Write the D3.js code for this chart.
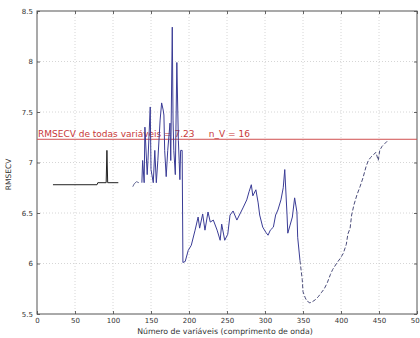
<!DOCTYPE html>
<html>
<head>
<meta charset="utf-8">
<script src="https://cdn.jsdelivr.net/npm/d3@7"></script>
<style>
  html, body { margin: 0; padding: 0; background: #fff; }
  svg { display: block; }
  text { font-family: "DejaVu Sans", Arial, sans-serif; }
</style>
</head>
<body>
<svg id="chart" width="420" height="338"></svg>
<script>
// RMSECV com todas as variáveis (primeiros comprimentos de onda)
const baseX = [21, 79, 80, 91, 92, 93, 107];
const baseY = [6.78, 6.78, 6.80, 6.80, 7.12, 6.80, 6.80];

// trecho curto isolado
const shortX = [126, 128, 131, 134];
const shortY = [6.76, 6.79, 6.81, 6.80];

// RMSECV por número de variáveis selecionadas
const curveX = [138, 139, 141, 142, 145, 146, 149, 150, 153, 155, 157, 159, 162, 164, 166, 167, 168, 170,
  172, 175, 176, 178, 179, 180, 182, 184, 186, 188, 189, 191, 192, 195, 199,
  203, 208, 212, 214, 218, 221, 225, 228, 232, 237, 241, 243, 247, 251, 254, 258, 263, 267, 271, 276,
  279, 282, 284, 288, 291, 293, 297, 301, 304, 307, 311, 314, 317, 321, 324, 326, 329, 330, 333, 336,
  339, 342, 343, 346];
const curveY = [6.80, 7.02, 6.80, 7.35, 6.88, 7.02, 7.55, 6.93, 6.80, 7.12, 6.80, 7.02, 7.42, 7.59, 7.52, 7.47, 7.12, 6.86,
  7.12, 7.39, 7.02, 8.34, 7.42, 7.12, 6.88, 7.99, 7.22, 6.83, 7.12, 7.12, 6.01, 6.02, 6.13,
  6.18, 6.33, 6.46, 6.35, 6.49, 6.33, 6.51, 6.41, 6.43, 6.33, 6.23, 6.39, 6.23, 6.29, 6.48, 6.52, 6.43, 6.49, 6.55, 6.63,
  6.71, 6.78, 6.67, 6.73, 6.60, 6.48, 6.36, 6.31, 6.28, 6.33, 6.36, 6.48, 6.53, 6.63, 6.75, 6.93, 6.48, 6.30, 6.38, 6.46,
  6.65, 6.51, 6.26, 6.03];

// trecho final (mínimo e subida)
const tailX = [346, 349, 350, 353, 355, 359, 362, 366, 370, 374, 378, 382, 386, 389, 395, 399, 403, 407, 409,
  412, 414, 417, 421, 425, 429, 433, 436, 439, 443, 446, 449, 451, 454, 458, 462];
const tailY = [6.03, 5.84, 5.72, 5.66, 5.63, 5.61, 5.62, 5.64, 5.67, 5.71, 5.75, 5.81, 5.89, 5.94, 6.01, 6.05, 6.10, 6.19, 6.29,
  6.35, 6.48, 6.58, 6.68, 6.76, 6.85, 6.96, 7.02, 7.05, 7.08, 7.10, 7.02, 7.12, 7.16, 7.19, 7.22];

const refValue = 7.23;
const nV = 16;
const refLabel = "RMSECV de todas variáveis = " + refValue.toFixed(2) + "     n_V = " + nV;

const xTicks = [0, 50, 100, 150, 200, 250, 300, 350, 400, 450, 500];
const yTicks = [5.5, 6, 6.5, 7, 7.5, 8, 8.5];
const xTitle = "Número de variáveis (comprimento de onda)";
const yTitle = "RMSECV";

const W = 420, H = 338;
const m = { left: 37, right: 3, top: 11, bottom: 24 };
const iw = W - m.left - m.right, ih = H - m.top - m.bottom;

const svg = d3.select("#chart");
const g = svg.append("g").attr("transform", `translate(${m.left},${m.top})`);

const x = d3.scaleLinear().domain([0, 500]).range([0, iw]);
const y = d3.scaleLinear().domain([5.5, 8.5]).range([ih, 0]);

// grade pontilhada
g.append("g").selectAll("line").data(xTicks.slice(1, -1)).join("line")
  .attr("x1", d => x(d)).attr("x2", d => x(d)).attr("y1", 0).attr("y2", ih)
  .attr("stroke", "#cccccc").attr("stroke-width", 0.8).attr("stroke-dasharray", "1,2");
g.append("g").selectAll("line").data(yTicks.slice(1, -1)).join("line")
  .attr("y1", d => y(d)).attr("y2", d => y(d)).attr("x1", 0).attr("x2", iw)
  .attr("stroke", "#cccccc").attr("stroke-width", 0.8).attr("stroke-dasharray", "1,2");

// eixos com marcas internas
const styleAxis = sel => {
  sel.select(".domain").remove();
  sel.selectAll("line").attr("stroke", "#666");
  sel.selectAll("text").attr("fill", "#333").style("font-size", "7px");
};
g.append("g").attr("transform", `translate(0,${ih})`)
  .call(d3.axisBottom(x).tickValues(xTicks).tickSize(-3).tickPadding(4).tickFormat(d3.format("d")))
  .call(styleAxis);
g.append("g")
  .call(d3.axisTop(x).tickValues(xTicks).tickSize(-3).tickFormat(""))
  .call(styleAxis);
g.append("g")
  .call(d3.axisLeft(y).tickValues(yTicks).tickSize(-3).tickPadding(4).tickFormat(d3.format("~g")))
  .call(styleAxis);
g.append("g").attr("transform", `translate(${iw},0)`)
  .call(d3.axisRight(y).tickValues(yTicks).tickSize(-3).tickFormat(""))
  .call(styleAxis);

g.append("rect").attr("width", iw).attr("height", ih)
  .attr("fill", "none").attr("stroke", "#555").attr("stroke-width", 1);

// linha de referência
g.append("line").attr("x1", 0).attr("x2", iw).attr("y1", y(refValue)).attr("y2", y(refValue))
  .attr("stroke", "#d05050").attr("stroke-width", 1);
g.append("text").attr("x", 1).attr("y", y(refValue) - 2.5)
  .attr("fill", "#c83838").style("font-size", "9px").style("white-space", "pre")
  .text(refLabel);

// séries
const line = d3.line().x(d => x(d[0])).y(d => y(d[1]));
const pts = (xs, ys) => xs.map((v, i) => [v, ys[i]]);

g.append("path").datum(pts(baseX, baseY)).attr("d", line)
  .attr("fill", "none").attr("stroke", "#222").attr("stroke-width", 1);
g.append("path").datum(pts(shortX, shortY)).attr("d", line)
  .attr("fill", "none").attr("stroke", "#555a8a").attr("stroke-width", 0.9);
g.append("path").datum(pts(curveX, curveY)).attr("d", line)
  .attr("fill", "none").attr("stroke", "#3a3c96").attr("stroke-width", 1)
  .attr("stroke-linejoin", "round");
g.append("path").datum(pts(tailX, tailY)).attr("d", line)
  .attr("fill", "none").attr("stroke", "#4a4c7a").attr("stroke-width", 1)
  .attr("stroke-dasharray", "4,2");

// títulos
svg.append("text").attr("x", 225).attr("y", H - 4)
  .attr("text-anchor", "middle").attr("fill", "#333").style("font-size", "7.8px").text(xTitle);
svg.append("text").attr("transform", `translate(11,${m.top + ih / 2 + 12}) rotate(-90)`)
  .attr("text-anchor", "middle").attr("fill", "#333").style("font-size", "7.5px").text(yTitle);
</script>
</body>
</html>
